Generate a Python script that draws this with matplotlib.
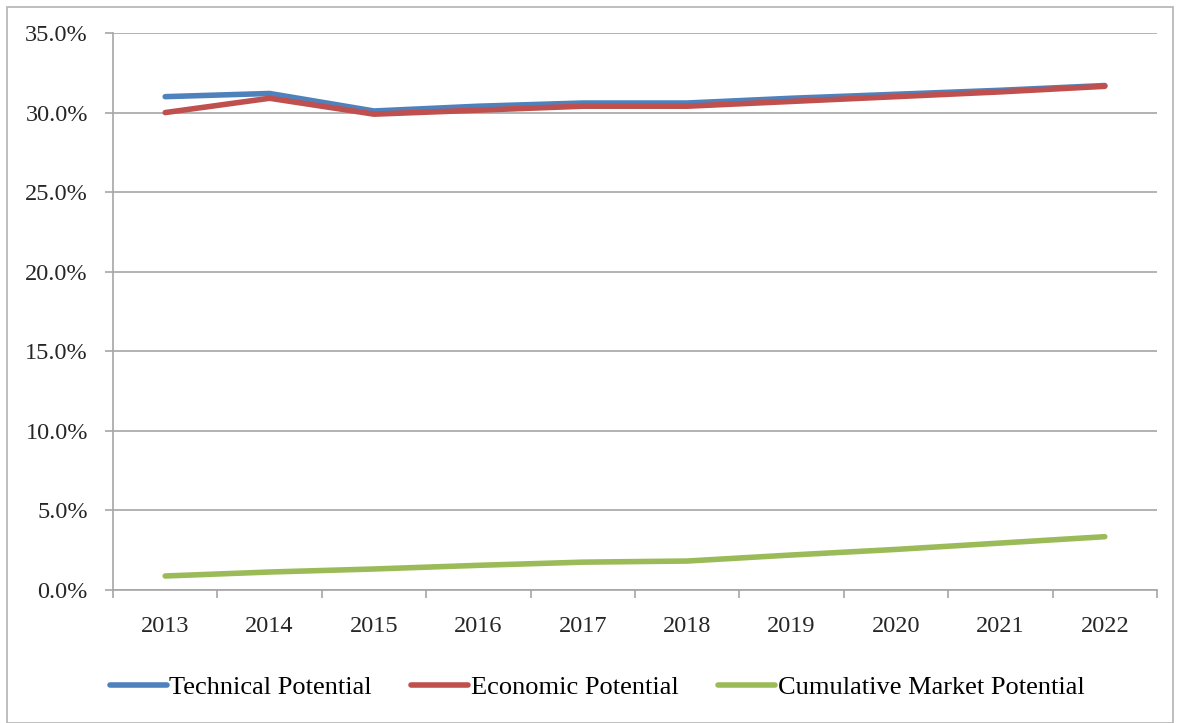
import matplotlib.pyplot as plt
import numpy as np
from matplotlib.patches import Rectangle

years = ["2013", "2014", "2015", "2016", "2017", "2018", "2019", "2020", "2021", "2022"]
technical = [31.0, 31.2, 30.1, 30.4, 30.6, 30.6, 30.9, 31.15, 31.4, 31.7]
economic = [30.0, 30.9, 29.9, 30.15, 30.4, 30.4, 30.7, 31.0, 31.3, 31.65]
market = [0.88, 1.13, 1.32, 1.55, 1.75, 1.82, 2.2, 2.55, 2.95, 3.35]
y_ticks = [0, 5, 10, 15, 20, 25, 30, 35]

plt.rcParams["font.family"] = ["Liberation Serif", "DejaVu Serif"]
grid_col = "#a6a6a6"
fs = 17.5

fig = plt.figure(figsize=(11.8, 7.23), dpi=100)
fig.patches.append(Rectangle((7 / 1180, 0), 1166 / 1180, 716 / 723,
                             transform=fig.transFigure, fill=False,
                             edgecolor="#b3b3b3", linewidth=1.2))
ax = fig.add_axes([113 / 1180, 1 - 590 / 723, 1044 / 1180, 557 / 723])

x = np.arange(len(years))
ax.plot(x, technical, color="#4F81BD", lw=4, solid_capstyle="round", label="Technical Potential")
ax.plot(x, economic, color="#C0504D", lw=4, solid_capstyle="round", label="Economic Potential")
ax.plot(x, market, color="#9BBB59", lw=4, solid_capstyle="round", label="Cumulative Market Potential")

ax.set_xlim(-0.5, len(years) - 0.5)
ax.set_ylim(0, 35)
ax.set_yticks(y_ticks)
ax.set_yticklabels([f"{v:.1f}%" for v in y_ticks], fontsize=fs, color="#262626")
ax.yaxis.grid(True, color=grid_col, lw=1.2)
ax.set_axisbelow(True)

ax.set_xticks(np.arange(-0.5, len(years)), labels=[])
ax.set_xticks(x, labels=years, minor=True)
ax.tick_params(axis="x", which="minor", length=0, labelsize=fs, pad=19, labelcolor="#262626")
ax.tick_params(axis="x", which="major", length=6, color=grid_col, width=1.2)
ax.tick_params(axis="y", length=6, color=grid_col, width=1.2, pad=12)

for s in ["top", "right"]:
    ax.spines[s].set_visible(False)
for s in ["left", "bottom"]:
    ax.spines[s].set_color(grid_col)
    ax.spines[s].set_linewidth(1.2)

fig.legend(loc="center", bbox_to_anchor=(0.506, 1 - 687 / 723), ncol=3, frameon=False,
           fontsize=19, handlelength=2.15, handletextpad=0.1, columnspacing=1.5)

fig.savefig("out.png", dpi=100)
